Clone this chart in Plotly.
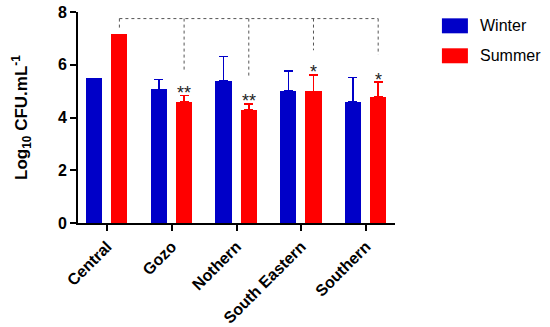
import plotly.graph_objects as go

categories = ["Central", "Gozo", "Nothern", "South Eastern", "Southern"]
winter = [5.48, 5.07, 5.40, 5.00, 4.58]
winter_err = ["NaN", 0.37, 0.92, 0.77, 0.93]
summer = [7.18, 4.59, 4.29, 4.99, 4.77]
summer_err = ["NaN", 0.25, 0.22, 0.63, 0.58]
stars = ["", "**", "**", "*", "*"]
star_y = [None, 5.11, 4.81, 5.90, 5.63]
bracket_y = 7.75
drop_y = [7.3, 5.8, 5.57, 6.55, 6.38]

BLUE = "#0000C8"
RED = "#FF0000"
FONT = "Arial, Liberation Sans, sans-serif"
bw = 0.25
w_off = -0.325
s_off = 0.065

fig = go.Figure()
fig.add_trace(go.Bar(x=categories, y=winter, name="Winter", marker_color=BLUE,
                     width=bw, offset=w_off, marker_line_width=0,
                     error_y=dict(type="data", array=winter_err, symmetric=False,
                                  color=BLUE, thickness=1.5, width=4.5, visible=True)))
fig.add_trace(go.Bar(x=categories, y=summer, name="Summer", marker_color=RED,
                     width=bw, offset=s_off, marker_line_width=0,
                     error_y=dict(type="data", array=summer_err, symmetric=False,
                                  color=RED, thickness=1.5, width=4.5, visible=True)))

sc = s_off + bw / 2
centers = [i + sc for i in range(len(categories))]
shapes = []
shapes.append(dict(type="line", xref="x", yref="y", x0=centers[0], x1=centers[-1],
                   y0=bracket_y, y1=bracket_y, line=dict(color="#555", width=1, dash="dot")))
for cx, dy in zip(centers, drop_y):
    shapes.append(dict(type="line", xref="x", yref="y", x0=cx, x1=cx, y0=bracket_y, y1=dy,
                       line=dict(color="#555", width=1, dash="dot")))

# manual legend
leg = [("Winter", BLUE, 0.970, 0.899, 0.935), ("Summer", RED, 0.828, 0.757, 0.793)]
annotations = []
for name, col, y0, y1, yt in leg:
    shapes.append(dict(type="rect", xref="paper", yref="paper", x0=1.148, x1=1.230,
                       y0=y1, y1=y0, fillcolor=col, line_width=0))
    annotations.append(dict(xref="paper", yref="paper", x=1.262, y=yt, text=name,
                            showarrow=False, xanchor="left", yanchor="middle",
                            font=dict(family=FONT, size=16, color="black")))

for cx, s, sy in zip(centers, stars, star_y):
    if s:
        annotations.append(dict(x=cx, y=sy, xref="x", yref="y", text=s, showarrow=False,
                                yanchor="middle", yshift=-5,
                                font=dict(family=FONT, size=18, color="#222")))

fig.update_layout(
    width=550, height=327,
    margin=dict(l=78, r=155, t=12, b=104, autoexpand=False),
    plot_bgcolor="white", paper_bgcolor="white",
    showlegend=False,
    shapes=shapes, annotations=annotations,
    font=dict(family=FONT, color="black"),
    bargap=0,
)
fig.update_xaxes(range=[-0.45, 4.45], tickangle=-45, showline=True, linecolor="black",
                 linewidth=2, ticks="outside", ticklen=6, tickwidth=2, tickcolor="black",
                 tickfont=dict(family=FONT, size=16, color="black", weight="bold"),
                 showgrid=False, zeroline=False, automargin=False)
fig.update_yaxes(range=[0, 8], tickvals=[0, 2, 4, 6, 8], showline=True, linecolor="black",
                 linewidth=2, ticks="outside", ticklen=6, tickwidth=2, tickcolor="black",
                 tickfont=dict(family=FONT, size=16, color="black", weight="bold"),
                 showgrid=False, zeroline=False, automargin=False,
                 title=dict(text="<b>Log<sub>10</sub> CFU.mL<sup>-1</sup></b>",
                            font=dict(family=FONT, size=17, color="black"), standoff=26))

fig.write_html("out.html", config={"displayModeBar": False},
               post_script="document.body.style.margin='0';")
